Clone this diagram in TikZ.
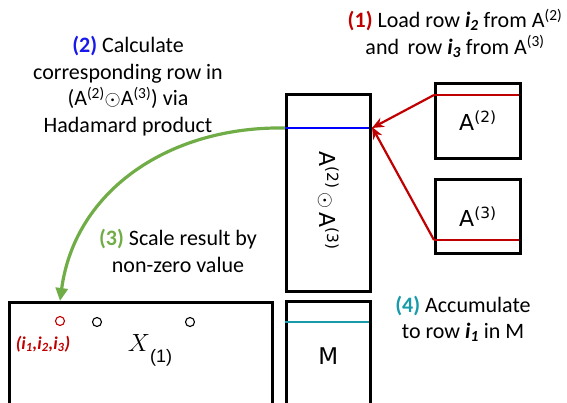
\documentclass[tikz,border=0pt]{standalone}
\usepackage{amsmath, amssymb}
\usepackage{fontspec}
\setmainfont{Carlito}
\newfontfamily\boxfont{DejaVu Sans}
\newfontfamily\subfont{Liberation Sans}
\usetikzlibrary{arrows.meta, positioning}
\usepackage{xcolor}
\definecolor{stepred}{RGB}{192, 0, 0}
\definecolor{stepblue}{RGB}{25, 25, 235}
\definecolor{stepgreen}{RGB}{112, 173, 71}
\definecolor{stepteal}{RGB}{23, 155, 170}

\tikzset{
    matbox/.style={draw, line width=2.8pt, rectangle, inner sep=0pt, anchor=north west,
        font=\boxfont\fontsize{22}{26}\selectfont},
    note/.style={align=center, font=\fontsize{22}{26.5}\selectfont},
    entry/.style={draw, circle, line width=1.1pt, minimum size=9pt, inner sep=0pt},
    rowline/.style={line width=2.8pt},
    loadarrow/.style={stepred, line width=2.2pt, -{Stealth[length=12pt, width=10pt]}},
}

\begin{document}
\begin{tikzpicture}[x=1pt, y=-1pt]
    \useasboundingbox (0,0) rectangle (567,402);

    % matrices
    \node[matbox, minimum width=85pt, minimum height=75pt] (A2) at (434,82) {A\textsuperscript{(2)}};
    \node[matbox, minimum width=85pt, minimum height=74pt] (A3) at (434,178) {A\textsuperscript{(3)}};
    \node[matbox, minimum width=84pt, minimum height=197pt] (prod) at (285,93) {};
    \node[rotate=-90, font=\boxfont\fontsize{22}{26}\selectfont] (prodlabel) at ([yshift=-8pt]prod.center)
        {A\textsuperscript{(2)}\,$\odot$\,A\textsuperscript{(3)}};
    \node[matbox, minimum width=84pt, minimum height=104pt] (M) at (285,300) {};
    \node[font=\boxfont\fontsize{23}{26}\selectfont] (Mlabel) at ([yshift=-3pt]M.center) {M};
    \node[matbox, minimum width=263pt, minimum height=104pt] (X) at (8,301) {};
    \node (Xlabel) at (150,350) {\fontsize{26}{28}\selectfont$X$\raisebox{-11pt}{\subfont\fontsize{18}{20}\selectfont(1)}};

    % rows
    \coordinate (A2row) at (434,95);
    \coordinate (A2rowend) at (519,95);
    \coordinate (A3row) at (434,240);
    \coordinate (A3rowend) at (519,240);
    \coordinate (prodrow) at (285,128);
    \coordinate (prodrowend) at (369,128);
    \coordinate (Mrow) at (285,322);
    \coordinate (Mrowend) at (369,322);
    \draw[stepred, rowline] (A2row) -- (A2rowend);
    \draw[stepred, rowline] (A3row) -- (A3rowend);
    \draw[blue, rowline] (prodrow) -- (prodrowend);
    \draw[stepteal, rowline] (Mrow) -- (Mrowend);

    % non-zero entries
    \node[entry, stepred] (nz1) at (60,321) {};
    \node[entry] (nz2) at (97,322) {};
    \node[entry] (nz3) at (190,322) {};
    \node[stepred, font=\fontsize{18}{20}\selectfont\bfseries\itshape] (idx) at (43,344)
        {(i\textsubscript{1},i\textsubscript{2},i\textsubscript{3})};

    % arrows
    \draw[loadarrow] (A2row) -- ([xshift=3pt]prodrowend);
    \draw[loadarrow] (A3row) -- ([xshift=3pt, yshift=1pt]prodrowend);
    \draw[stepgreen, line width=3.2pt, -{Triangle[length=13pt, width=12pt]}]
        (prodrow) .. controls (170,126) and (75,190) .. (nz1.north |- X.north);

    % steps
    \node[note] (step1) at (455,33) {{\color{stepred}\bfseries(1)} Load row {\bfseries\itshape i\textsubscript{2}} from A\textsuperscript{(2)}\\
        and\, row {\bfseries\itshape i\textsubscript{3}} from A\textsuperscript{(3)}};
    \node[note] (step2) at (128,86) {{\color{stepblue}\bfseries(2)} Calculate\\ corresponding row in\\
        (A\textsuperscript{(2)}$\odot$A\textsuperscript{(3)}) via\\ Hadamard product};
    \node[note] (step3) at (178,251) {{\color{stepgreen}\bfseries(3)} Scale result by\\ non-zero value};
    \node[note] (step4) at (463,319) {{\color{stepteal}\bfseries(4)} Accumulate\\
        to row {\bfseries\itshape i\textsubscript{1}} in M};
\end{tikzpicture}
\end{document}
